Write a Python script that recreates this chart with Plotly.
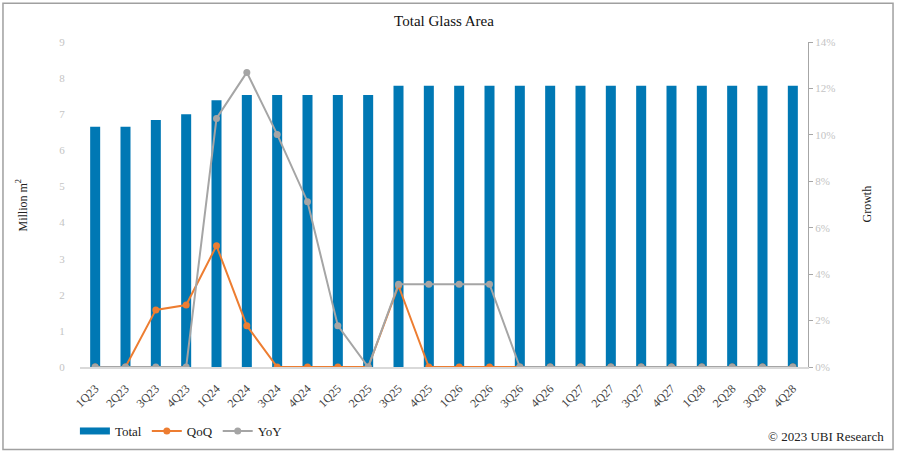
import plotly.graph_objects as go

quarters = ["1Q23","2Q23","3Q23","4Q23","1Q24","2Q24","3Q24","4Q24","1Q25","2Q25","3Q25","4Q25",
            "1Q26","2Q26","3Q26","4Q26","1Q27","2Q27","3Q27","4Q27","1Q28","2Q28","3Q28","4Q28"]
total = [6.65, 6.65, 6.84, 7.00, 7.39, 7.53, 7.53, 7.53, 7.53, 7.53, 7.79, 7.79,
         7.79, 7.79, 7.79, 7.79, 7.79, 7.79, 7.79, 7.79, 7.79, 7.79, 7.79, 7.79]
qoq = [0, 0, 0.0246, 0.0267, 0.0522, 0.0178, 0, 0, 0, 0, 0.035, 0,
       0, 0, 0, 0, 0, 0, 0, 0, 0, 0, 0, 0]
yoy = [0, 0, 0, 0, 0.1071, 0.1269, 0.1002, 0.0712, 0.0178, 0, 0.0357, 0.0357,
       0.0357, 0.0357, 0, 0, 0, 0, 0, 0, 0, 0, 0, 0]
left_ticks = [0, 1, 2, 3, 4, 5, 6, 7, 8, 9]
right_ticks = [0, 0.02, 0.04, 0.06, 0.08, 0.10, 0.12, 0.14]
right_labels = ["0%", "2%", "4%", "6%", "8%", "10%", "12%", "14%"]

serif = "Liberation Serif, Times New Roman, serif"
blue = "#0078B4"

fig = go.Figure()
fig.add_trace(go.Bar(x=quarters, y=total, name="Total", marker_color=blue,
                     marker_line_width=0, showlegend=False))
# legend entry for Total drawn as a thick bar-like line
fig.add_trace(go.Scatter(x=[None], y=[None], name="Total", mode="lines",
                         line=dict(color=blue, width=7), showlegend=True))
fig.add_trace(go.Scatter(x=quarters, y=qoq, name="QoQ", yaxis="y2", mode="lines+markers",
                         line=dict(color="#ED7D31", width=2), marker=dict(size=7, color="#ED7D31")))
fig.add_trace(go.Scatter(x=quarters, y=yoy, name="YoY", yaxis="y2", mode="lines+markers",
                         line=dict(color="#A5A5A5", width=2), marker=dict(size=7, color="#A5A5A5")))

fig.update_layout(
    width=897, height=454,
    margin=dict(l=80, r=89, t=42, b=87, autoexpand=False),
    paper_bgcolor="white", plot_bgcolor="white",
    bargap=0.67,
    showlegend=True,
    legend=dict(orientation="h", x=-0.007, xanchor="left", y=-0.197, yanchor="middle",
                font=dict(family=serif, size=13, color="#222"),
                bgcolor="rgba(0,0,0,0)", tracegroupgap=0),
    title=dict(text="Total Glass Area", x=0.5, xref="paper", xanchor="center",
               y=0.955, yanchor="middle",
               font=dict(family=serif, size=15, color="#111")),
    xaxis=dict(type="category", range=[-0.5, len(quarters) - 0.5], tickangle=-45,
               showgrid=False, showline=True,
               linecolor="#d9d9d9", linewidth=1.5, ticks="outside", ticklen=8,
               tickcolor="rgba(0,0,0,0)", automargin=False,
               tickfont=dict(family=serif, size=12, color="#444")),
    yaxis=dict(range=[0, 9], tickvals=left_ticks, showgrid=False, showline=False,
               zeroline=False, ticks="outside", ticklen=12, tickcolor="rgba(0,0,0,0)",
               automargin=False,
               tickfont=dict(family=serif, size=11, color="#c4c4c4")),
    yaxis2=dict(range=[0, 0.14], tickvals=right_ticks, ticktext=right_labels,
                overlaying="y", side="right", showgrid=False, showline=True,
                linecolor="#a6a6a6", linewidth=1.2, ticks="outside", ticklen=4,
                tickcolor="#a6a6a6", zeroline=False, automargin=False,
                tickfont=dict(family=serif, size=11, color="#c4c4c4")),
)

fig.add_annotation(text="Million m<sup>2</sup>", xref="paper", yref="paper",
                   x=-0.0797, xanchor="center", y=0.5, textangle=-90, showarrow=False,
                   font=dict(family=serif, size=12, color="#222"))
fig.add_annotation(text="Growth", xref="paper", yref="paper",
                   x=1.0797, xanchor="center", y=0.5, textangle=-90, showarrow=False,
                   font=dict(family=serif, size=12, color="#222"))
fig.add_annotation(text="© 2023 UBI Research", xref="paper", yref="paper",
                   x=1.1065, xanchor="right", y=-0.215, yanchor="middle", showarrow=False,
                   font=dict(family=serif, size=13, color="#222"))

fig.add_shape(type="rect", xref="paper", yref="paper",
              x0=-0.1058, x1=1.1168, y0=-0.254, y1=1.1189,
              line=dict(color="#a0a0a0", width=1.5), fillcolor="rgba(0,0,0,0)")

fig.write_html("out.html", config={"displayModeBar": False},
               post_script="document.body.style.margin='0';document.body.style.overflow='hidden';")
